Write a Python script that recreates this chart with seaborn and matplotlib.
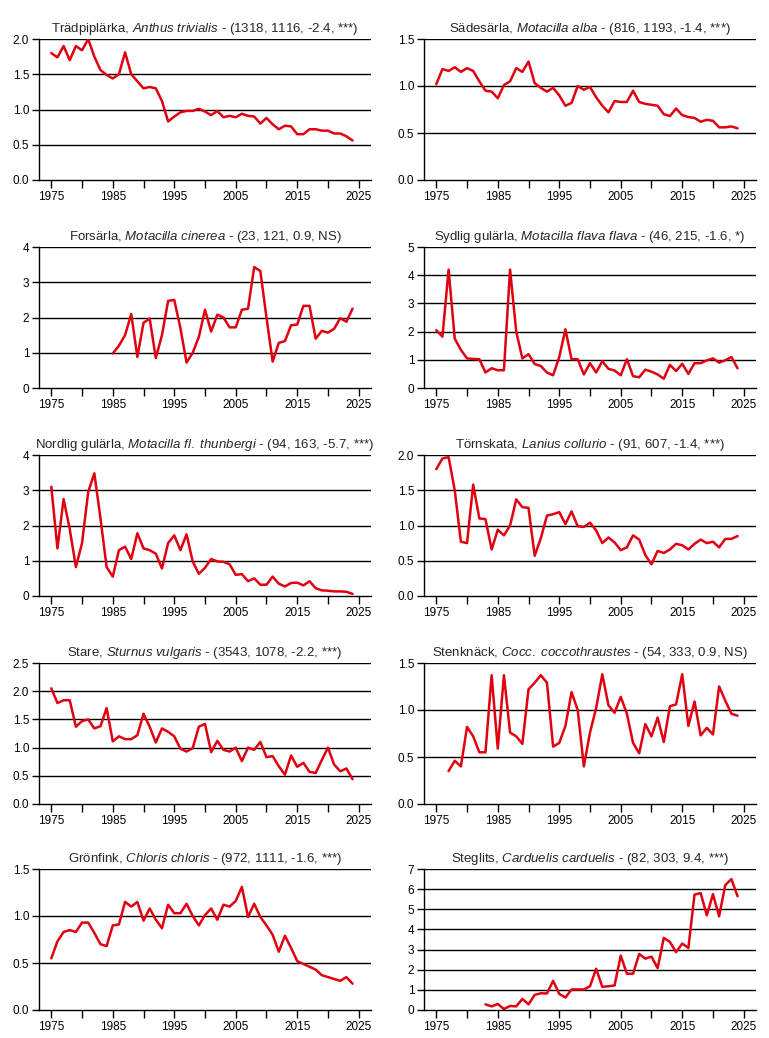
import numpy as np
import pandas as pd
import matplotlib
matplotlib.use("Agg")
import matplotlib.pyplot as plt
import seaborn as sns

# Index values per species, one value per year from the start year up to 2024
tradpiplarka = [1.80, 1.74, 1.90, 1.70, 1.90, 1.84, 2.00, 1.75, 1.56, 1.49,
                1.44, 1.50, 1.81, 1.50, 1.40, 1.30, 1.32, 1.30, 1.12, 0.83,
                0.90, 0.96, 0.98, 0.98, 1.01, 0.97, 0.92, 0.98, 0.89, 0.91,
                0.89, 0.94, 0.91, 0.90, 0.80, 0.88, 0.79, 0.72, 0.77, 0.76,
                0.65, 0.65, 0.72, 0.72, 0.70, 0.70, 0.66, 0.66, 0.62, 0.56]
sadesarla = [1.02, 1.18, 1.16, 1.20, 1.15, 1.19, 1.16, 1.05, 0.95, 0.94,
             0.87, 1.01, 1.05, 1.19, 1.15, 1.26, 1.03, 0.98, 0.94, 0.98,
             0.90, 0.79, 0.82, 1.00, 0.96, 0.99, 0.88, 0.79, 0.72, 0.84,
             0.83, 0.83, 0.95, 0.83, 0.81, 0.80, 0.79, 0.70, 0.68, 0.76,
             0.69, 0.67, 0.66, 0.62, 0.64, 0.63, 0.56, 0.56, 0.57, 0.55]
forsarla = [0.98, 1.20, 1.50, 2.10, 0.88, 1.85, 1.97, 0.85, 1.50, 2.47,
            2.50, 1.70, 0.72, 1.00, 1.45, 2.22, 1.60, 2.08, 2.00, 1.72,
            1.72, 2.22, 2.25, 3.43, 3.32, 2.00, 0.75, 1.28, 1.33, 1.78,
            1.80, 2.33, 2.33, 1.40, 1.62, 1.57, 1.68, 1.98, 1.88, 2.25]
sydlig_gularla = [2.05, 1.82, 4.20, 1.75, 1.35, 1.05, 1.03, 1.02, 0.55, 0.70,
                  0.63, 0.63, 4.20, 2.00, 1.05, 1.20, 0.85, 0.78, 0.55, 0.45,
                  1.10, 2.08, 1.02, 1.02, 0.48, 0.88, 0.55, 0.95, 0.68, 0.62,
                  0.45, 1.02, 0.42, 0.38, 0.65, 0.58, 0.48, 0.33, 0.82, 0.60,
                  0.86, 0.50, 0.88, 0.88, 0.98, 1.05, 0.90, 0.98, 1.10, 0.70]
nordlig_gularla = [3.10, 1.35, 2.75, 1.90, 0.82, 1.50, 2.95, 3.48, 2.20, 0.82,
                   0.55, 1.30, 1.40, 1.05, 1.78, 1.35, 1.30, 1.20, 0.78, 1.50,
                   1.72, 1.30, 1.75, 0.98, 0.63, 0.80, 1.05, 0.98, 0.97, 0.90,
                   0.60, 0.62, 0.42, 0.50, 0.32, 0.32, 0.55, 0.35, 0.27, 0.37,
                   0.38, 0.30, 0.42, 0.22, 0.16, 0.15, 0.13, 0.13, 0.12, 0.06]
tornskata = [1.80, 1.95, 1.97, 1.50, 0.77, 0.75, 1.58, 1.10, 1.09, 0.66,
             0.94, 0.86, 1.00, 1.37, 1.26, 1.25, 0.57, 0.82, 1.14, 1.16,
             1.19, 1.02, 1.20, 0.99, 0.98, 1.04, 0.93, 0.75, 0.83, 0.76,
             0.65, 0.69, 0.86, 0.80, 0.58, 0.45, 0.64, 0.61, 0.66, 0.74,
             0.72, 0.66, 0.74, 0.80, 0.75, 0.77, 0.69, 0.81, 0.81, 0.85]
stare = [2.05, 1.79, 1.84, 1.84, 1.37, 1.47, 1.50, 1.34, 1.38, 1.70,
         1.11, 1.20, 1.15, 1.15, 1.22, 1.60, 1.37, 1.09, 1.34, 1.28,
         1.20, 0.98, 0.93, 0.99, 1.37, 1.42, 0.92, 1.12, 0.96, 0.93,
         1.00, 0.76, 1.00, 0.96, 1.10, 0.83, 0.85, 0.67, 0.52, 0.86,
         0.66, 0.73, 0.57, 0.55, 0.78, 1.00, 0.70, 0.58, 0.63, 0.44]
stenknack = [0.35, 0.46, 0.40, 0.82, 0.72, 0.55, 0.55, 1.37, 0.59, 1.37,
             0.76, 0.72, 0.64, 1.22, 1.29, 1.37, 1.29, 0.61, 0.65, 0.83,
             1.19, 1.00, 0.40, 0.76, 1.02, 1.38, 1.05, 0.97, 1.14, 0.96,
             0.65, 0.54, 0.85, 0.72, 0.92, 0.66, 1.04, 1.06, 1.38, 0.83,
             1.09, 0.73, 0.81, 0.74, 1.25, 1.10, 0.96, 0.94]
gronfink = [0.55, 0.73, 0.83, 0.85, 0.83, 0.93, 0.93, 0.82, 0.70, 0.68,
            0.90, 0.91, 1.15, 1.10, 1.15, 0.95, 1.08, 0.96, 0.87, 1.12,
            1.03, 1.03, 1.13, 1.00, 0.90, 1.01, 1.08, 0.96, 1.12, 1.10,
            1.16, 1.31, 0.99, 1.13, 0.99, 0.90, 0.80, 0.62, 0.79, 0.66,
            0.52, 0.49, 0.46, 0.43, 0.37, 0.35, 0.33, 0.31, 0.35, 0.28]
steglits = [0.28, 0.18, 0.30, 0.05, 0.20, 0.18, 0.55, 0.28, 0.75, 0.83,
            0.82, 1.45, 0.80, 0.62, 1.02, 1.02, 1.02, 1.18, 2.05, 1.15,
            1.18, 1.22, 2.70, 1.80, 1.80, 2.78, 2.55, 2.65, 2.08, 3.58,
            3.38, 2.87, 3.30, 3.08, 5.73, 5.80, 4.70, 5.75, 4.65, 6.20,
            6.50, 5.65]

swedish_names = ["Trädpiplärka", "Sädesärla", "Forsärla", "Sydlig gulärla",
                 "Nordlig gulärla", "Törnskata", "Stare", "Stenknäck",
                 "Grönfink", "Steglits"]
latin_names = ["Anthus trivialis", "Motacilla alba", "Motacilla cinerea",
               "Motacilla flava flava", "Motacilla fl. thunbergi",
               "Lanius collurio", "Sturnus vulgaris", "Cocc. coccothraustes",
               "Chloris chloris", "Carduelis carduelis"]
stats = ["(1318, 1116, -2.4, ***)", "(816, 1193, -1.4, ***)",
         "(23, 121, 0.9, NS)", "(46, 215, -1.6, *)",
         "(94, 163, -5.7, ***)", "(91, 607, -1.4, ***)",
         "(3543, 1078, -2.2, ***)", "(54, 333, 0.9, NS)",
         "(972, 1111, -1.6, ***)", "(82, 303, 9.4, ***)"]
start_years = [1975, 1975, 1985, 1975, 1975, 1975, 1975, 1977, 1975, 1983]
series = [tradpiplarka, sadesarla, forsarla, sydlig_gularla, nordlig_gularla,
          tornskata, stare, stenknack, gronfink, steglits]
y_max = [2.0, 1.5, 4, 5, 4, 2.0, 2.5, 1.5, 1.5, 7]
y_step = [0.5, 0.5, 1, 1, 1, 0.5, 0.5, 0.5, 0.5, 1]

sns.set_style("white")
plt.rcParams['font.family'] = ['Liberation Sans', 'DejaVu Sans']
plt.rcParams['mathtext.fontset'] = 'custom'
plt.rcParams['mathtext.rm'] = 'Liberation Sans'
plt.rcParams['mathtext.it'] = 'Liberation Sans:italic'

fig = plt.figure(figsize=(7.69, 10.38), dpi=100)
W, H = 769, 1038
lefts = [39, 424]
tops = [39, 247, 455, 663, 869]
aw, ah = 332, 141

for i in range(10):
    row, col = divmod(i, 2)
    ax = fig.add_axes([lefts[col] / W, 1 - (tops[row] + ah) / H, aw / W, ah / H])
    vals = series[i]
    df = pd.DataFrame({"year": np.arange(start_years[i], start_years[i] + len(vals)),
                       "index": vals})
    sns.lineplot(data=df, x="year", y="index", ax=ax, color="#e00010", lw=1.8)

    ax.set_xlim(1973, 2027)
    ax.set_ylim(0, y_max[i])
    yt = np.arange(0, y_max[i] + 1e-9, y_step[i])
    ax.set_yticks(yt)
    if y_step[i] < 1:
        ax.set_yticklabels([f"{v:.1f}" for v in yt])
    else:
        ax.set_yticklabels([f"{int(v)}" for v in yt])
    for v in yt[1:]:
        ax.axhline(v, color="black", lw=1.0, zorder=1)

    ax.set_xticks(np.arange(1975, 2026, 10))
    ax.set_xticks(np.arange(1980, 2021, 10), minor=True)
    ax.tick_params(axis="x", which="both", direction="out", length=6, width=1,
                   bottom=True, labelsize=8.5, pad=2, colors="black")
    ax.tick_params(axis="y", direction="out", length=5, width=1, left=True,
                   labelsize=8.5, pad=2, colors="black")
    for s in ["top", "right"]:
        ax.spines[s].set_visible(False)
    for s in ["left", "bottom"]:
        ax.spines[s].set_color("black")
        ax.spines[s].set_linewidth(1.0)
    ax.set_xlabel("")
    ax.set_ylabel("")

    latin = latin_names[i].replace(" ", r"\ ")
    ax.set_title(f"{swedish_names[i]}, $\\mathit{{{latin}}}$ - {stats[i]}",
                 fontsize=9.5, pad=5)

fig.savefig("out.png", dpi=100, facecolor="white")
